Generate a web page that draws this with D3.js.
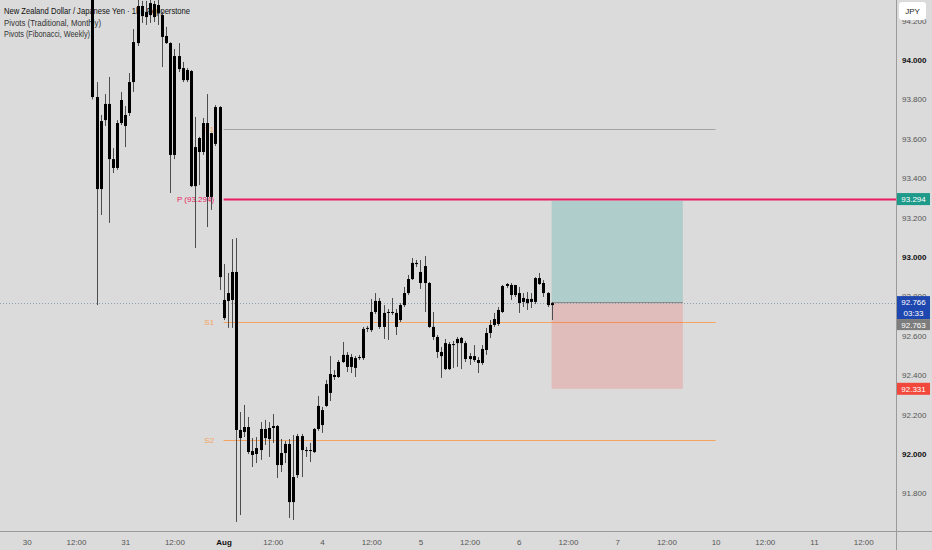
<!DOCTYPE html>
<html lang="en">
<head>
<meta charset="UTF-8" />
<title>NZDJPY 1h</title>
<script src="https://d3js.org/d3.v7.min.js"></script>
<style>
    body { margin: 0; background: #dbdbdb; }
    svg { display: block; font-family: "Liberation Sans", Arial, sans-serif; }
</style>
</head>
<body>
<script>
    var w = 932, h = 550;
    var plotW = 896, plotH = 531;

    // hour index of the first candle (0 = 30 Jul 00:00, trading hours only)
    var firstBar = 16;

    var opens = [
        94.345, 93.812, 93.345, 93.695, 93.777, 93.497, 93.452, 93.680, 93.721, 93.731,
        93.888, 94.086, 94.274, 94.218, 94.228, 94.284, 94.239, 94.228, 94.122, 94.086,
        93.518, 94.020, 93.959, 93.898, 93.944, 93.360, 93.533, 93.533, 93.680, 93.305,
        93.574, 93.761, 92.782, 92.777, 92.782, 92.924, 92.122, 92.112, 92.137, 92.015,
        92.000, 92.020, 92.127, 92.076, 92.132, 92.142, 91.944, 92.005, 92.051, 91.756,
        91.893, 92.091, 92.020, 92.015, 92.010, 92.127, 92.147, 92.244, 92.310, 92.401,
        92.391, 92.467, 92.503, 92.442, 92.487, 92.487, 92.487, 92.635, 92.629, 92.721,
        92.777, 92.645, 92.716, 92.721, 92.716, 92.680, 92.756, 92.817, 92.888, 92.970,
        92.924, 92.868, 92.868, 92.645, 92.594, 92.518, 92.431, 92.558, 92.553, 92.563,
        92.589, 92.563, 92.482, 92.497, 92.477, 92.462, 92.528, 92.614, 92.655, 92.660,
        92.721, 92.853, 92.858, 92.807, 92.817, 92.772, 92.787, 92.772, 92.772, 92.893,
        92.868, 92.817, 92.756
    ];
    var highs = [
        94.360, 93.888, 93.721, 93.827, 93.914, 93.553, 93.695, 93.838, 93.766, 93.934,
        94.157, 94.305, 94.300, 94.300, 94.305, 94.300, 94.305, 94.244, 94.168, 94.090,
        94.056, 94.086, 93.990, 93.959, 93.949, 93.711, 93.610, 93.706, 93.827, 93.630,
        93.771, 93.766, 92.964, 92.919, 93.091, 93.096, 92.213, 92.249, 92.188, 92.081,
        92.086, 92.162, 92.173, 92.162, 92.203, 92.147, 92.076, 92.066, 92.076, 92.096,
        92.102, 92.102, 92.036, 92.056, 92.132, 92.294, 92.239, 92.376, 92.497, 92.426,
        92.477, 92.569, 92.518, 92.508, 92.497, 92.503, 92.645, 92.650, 92.787, 92.817,
        92.792, 92.756, 92.736, 92.792, 92.736, 92.766, 92.848, 92.909, 92.995, 92.985,
        92.985, 93.005, 92.873, 92.721, 92.604, 92.543, 92.584, 92.569, 92.574, 92.594,
        92.594, 92.574, 92.513, 92.553, 92.492, 92.553, 92.640, 92.680, 92.716, 92.746,
        92.858, 92.868, 92.868, 92.858, 92.848, 92.817, 92.822, 92.817, 92.898, 92.919,
        92.883, 92.822, 92.772
    ];
    var lows = [
        93.800, 92.756, 93.213, 93.665, 93.173, 93.426, 93.442, 93.670, 93.558, 93.716,
        93.838, 94.071, 94.188, 94.178, 94.188, 94.193, 94.178, 93.964, 94.081, 93.325,
        93.497, 93.939, 93.888, 93.888, 93.355, 93.046, 93.365, 93.518, 93.152, 93.239,
        93.563, 92.832, 92.680, 92.640, 92.640, 91.655, 91.690, 92.086, 92.000, 91.934,
        91.954, 91.970, 92.046, 91.985, 92.056, 91.878, 91.909, 91.954, 91.675, 91.665,
        91.878, 91.883, 91.985, 91.959, 92.005, 92.117, 92.107, 92.239, 92.269, 92.376,
        92.386, 92.462, 92.416, 92.411, 92.391, 92.477, 92.477, 92.619, 92.619, 92.711,
        92.635, 92.584, 92.579, 92.706, 92.604, 92.670, 92.746, 92.807, 92.883, 92.949,
        92.838, 92.721, 92.640, 92.579, 92.487, 92.386, 92.426, 92.426, 92.437, 92.442,
        92.431, 92.467, 92.452, 92.467, 92.411, 92.452, 92.503, 92.589, 92.645, 92.650,
        92.716, 92.843, 92.782, 92.797, 92.716, 92.746, 92.731, 92.741, 92.761, 92.858,
        92.797, 92.746, 92.680
    ];
    var closes = [
        93.812, 93.345, 93.690, 93.777, 93.497, 93.452, 93.680, 93.797, 93.665, 93.888,
        94.091, 94.274, 94.223, 94.244, 94.289, 94.218, 94.279, 94.117, 94.086, 93.518,
        94.020, 93.954, 93.898, 93.949, 93.360, 93.558, 93.604, 93.680, 93.305, 93.629,
        93.761, 92.898, 92.690, 92.817, 92.924, 92.122, 92.081, 92.137, 92.010, 91.995,
        92.030, 92.127, 92.081, 92.132, 92.142, 91.944, 92.005, 92.051, 91.756, 91.883,
        92.091, 92.020, 92.015, 92.020, 92.127, 92.244, 92.223, 92.355, 92.406, 92.391,
        92.467, 92.503, 92.442, 92.492, 92.437, 92.492, 92.635, 92.640, 92.721, 92.777,
        92.645, 92.716, 92.721, 92.716, 92.645, 92.756, 92.817, 92.888, 92.970, 92.964,
        92.868, 92.954, 92.645, 92.594, 92.518, 92.497, 92.563, 92.431, 92.558, 92.584,
        92.563, 92.482, 92.497, 92.477, 92.462, 92.533, 92.614, 92.655, 92.685, 92.731,
        92.853, 92.863, 92.807, 92.858, 92.766, 92.792, 92.766, 92.787, 92.893, 92.863,
        92.817, 92.756, 92.766
    ];

    var timeTickBars = d3.range(0, 216, 12);
    var timeLabels = ["30", "12:00", "31", "12:00", "Aug", "12:00", "4", "12:00", "5", "12:00",
        "6", "12:00", "7", "12:00", "10", "12:00", "11", "12:00"];
    var priceTicks = [91.8, 92.0, 92.2, 92.4, 92.6, 92.8, 93.0, 93.2, 93.4, 93.6, 93.8, 94.0, 94.2];

    // pivot levels (monthly traditional / weekly fib)
    var pivotNames = ["R1", "P (93.294)", "S1", "S2"];
    var pivotValues = [93.650, 93.294, 92.670, 92.071];
    var pivotColors = ["#a3a3a3", "#e91e63", "#f5a35e", "#f5a35e"];
    var labelColors = ["#f5a35e", "#e91e63", "#f5a35e", "#f5a35e"];
    var pivotStart = 48, pivotEnd = 168;

    // long position tool
    var entryPrice = 92.766, targetPrice = 93.285, stopPrice = 92.331;
    var posStart = 128, posEnd = 160;
    var lastPrice = 92.766, bidPrice = 92.763;

    var svg = d3.select("body")
        .append("svg")
        .attr("width", w)
        .attr("height", h);

    var x = d3.scaleLinear().domain([0, 24]).range([26.8, 125.2]);
    var y = d3.scaleLinear().domain([92, 93]).range([454, 257]);

    svg.append("rect").attr("width", w).attr("height", h).attr("fill", "#dbdbdb");

    svg.append("defs").append("clipPath").attr("id", "plot")
        .append("rect").attr("width", plotW).attr("height", plotH);

    var plot = svg.append("g").attr("clip-path", "url(#plot)");

    // legend (candles are drawn over it)
    var legend = [
        ["New Zealand Dollar / Japanese Yen \u00b7 1h \u00b7 Pepperstone", 14, 186, "#111"],
        ["Pivots (Traditional, Monthly)", 25.5, 97, "#333"],
        ["Pivots (Fibonacci, Weekly)", 37, 86, "#333"]
    ];
    plot.selectAll("text.legend")
        .data(legend)
        .enter()
        .append("text")
        .attr("class", "legend")
        .attr("x", 4)
        .attr("y", function (d) { return d[1]; })
        .attr("textLength", function (d) { return d[2]; })
        .attr("lengthAdjust", "spacingAndGlyphs")
        .attr("font-size", 9.5)
        .attr("fill", function (d) { return d[3]; })
        .text(function (d) { return d[0]; });

    // pivot labels
    plot.selectAll("text.pivot")
        .data(pivotValues)
        .enter()
        .append("text")
        .attr("class", "pivot")
        .attr("x", x(pivotStart) - 9.5)
        .attr("y", function (d) { return y(d); })
        .attr("dy", "0.35em")
        .attr("text-anchor", "end")
        .attr("font-size", 8)
        .attr("fill", function (d, i) { return labelColors[i]; })
        .text(function (d, i) { return pivotNames[i]; });

    // pivot lines
    plot.selectAll("line.pivot")
        .data(pivotValues)
        .enter()
        .append("line")
        .attr("class", "pivot")
        .attr("x1", x(pivotStart))
        .attr("x2", function (d, i) { return i == 1 ? plotW : x(pivotEnd); })
        .attr("y1", function (d) { return Math.round(y(d)) + 0.5; })
        .attr("y2", function (d) { return Math.round(y(d)) + 0.5; })
        .attr("stroke", function (d, i) { return pivotColors[i]; })
        .attr("stroke-width", function (d, i) { return i == 1 ? 2 : 1; });

    // position tool
    plot.append("rect")
        .attr("x", x(posStart))
        .attr("y", y(targetPrice))
        .attr("width", x(posEnd) - x(posStart))
        .attr("height", y(entryPrice) - y(targetPrice))
        .attr("fill", "rgba(0,150,136,0.2)");
    plot.append("rect")
        .attr("x", x(posStart))
        .attr("y", y(entryPrice))
        .attr("width", x(posEnd) - x(posStart))
        .attr("height", y(stopPrice) - y(entryPrice))
        .attr("fill", "rgba(244,67,54,0.2)");
    plot.append("line")
        .attr("x1", x(posStart)).attr("x2", x(posEnd))
        .attr("y1", Math.round(y(entryPrice)) - 0.5).attr("y2", Math.round(y(entryPrice)) - 0.5)
        .attr("stroke", "#8a8a8a");

    // last price dotted line
    plot.append("line")
        .attr("x1", 0).attr("x2", plotW)
        .attr("y1", Math.round(y(lastPrice)) + 0.5).attr("y2", Math.round(y(lastPrice)) + 0.5)
        .attr("stroke", "#8ea1b3")
        .attr("stroke-dasharray", "1,2");

    // candles
    var candles = opens.map(function (o, i) {
        return { bar: firstBar + i, o: o, h: highs[i], l: lows[i], c: closes[i] };
    });

    plot.selectAll("line.wick")
        .data(candles)
        .enter()
        .append("line")
        .attr("class", "wick")
        .attr("x1", function (d) { return Math.round(x(d.bar)) + 0.5; })
        .attr("x2", function (d) { return Math.round(x(d.bar)) + 0.5; })
        .attr("y1", function (d) { return y(d.h); })
        .attr("y2", function (d) { return y(d.l); })
        .attr("stroke", "#4d4d4d");

    plot.selectAll("rect.body")
        .data(candles)
        .enter()
        .append("rect")
        .attr("class", "body")
        .attr("x", function (d) { return Math.round(x(d.bar)) - 1; })
        .attr("width", 3)
        .attr("y", function (d) { return y(Math.max(d.o, d.c)); })
        .attr("height", function (d) { return Math.max(1, Math.abs(y(d.o) - y(d.c))); })
        .attr("fill", "#000");

    // axes
    var yAxis = d3.axisRight(y)
        .tickValues(priceTicks)
        .tickSize(0)
        .tickPadding(6)
        .tickFormat(d3.format(".3f"));
    var gy = svg.append("g")
        .attr("transform", "translate(" + plotW + ",0)")
        .call(yAxis);
    gy.select(".domain").remove();
    gy.selectAll("text")
        .attr("font-size", 8)
        .attr("font-family", "Liberation Sans, Arial, sans-serif")
        .attr("font-weight", function (d) { return Math.abs(d - Math.round(d)) < 1e-6 ? "bold" : "normal"; })
        .attr("fill", function (d) { return Math.abs(d - Math.round(d)) < 1e-6 ? "#111" : "#555"; });

    var xAxis = d3.axisBottom(x)
        .tickValues(timeTickBars)
        .tickSize(0)
        .tickPadding(8)
        .tickFormat(function (d, i) { return timeLabels[i]; });
    var gx = svg.append("g")
        .attr("transform", "translate(0," + plotH + ")")
        .call(xAxis);
    gx.select(".domain").remove();
    gx.selectAll("text")
        .attr("font-size", 8)
        .attr("font-family", "Liberation Sans, Arial, sans-serif")
        .attr("font-weight", function (d, i) { return timeLabels[i] == "Aug" ? "bold" : "normal"; })
        .attr("fill", function (d, i) { return timeLabels[i] == "Aug" ? "#111" : "#555"; });

    svg.append("line")
        .attr("x1", plotW + 0.5).attr("x2", plotW + 0.5)
        .attr("y1", 0).attr("y2", h)
        .attr("stroke", "#9a9a9a");
    svg.append("line")
        .attr("x1", 0).attr("x2", w)
        .attr("y1", plotH + 0.5).attr("y2", plotH + 0.5)
        .attr("stroke", "#9a9a9a");

    // price labels on the scale
    var tags = [
        { v: 93.294, top: y(93.294) - 6, hgt: 12, fill: "#1e9a8b", lines: ["93.294"] },
        { v: lastPrice, top: y(lastPrice) - 7, hgt: 23, fill: "#1f47b0", lines: ["92.766", "03:33"] },
        { v: bidPrice, top: y(lastPrice) + 16, hgt: 11, fill: "#7d7d7d", lines: ["92.763"] },
        { v: stopPrice, top: y(stopPrice) - 6, hgt: 12, fill: "#f2483b", lines: ["92.331"] }
    ];
    var tg = svg.selectAll("g.tag")
        .data(tags)
        .enter()
        .append("g")
        .attr("class", "tag");
    tg.append("rect")
        .attr("x", plotW + 1)
        .attr("y", function (d) { return d.top; })
        .attr("width", 33)
        .attr("height", function (d) { return d.hgt; })
        .attr("fill", function (d) { return d.fill; });
    tg.each(function (d) {
        d3.select(this).selectAll("text")
            .data(d.lines)
            .enter()
            .append("text")
            .attr("x", plotW + 17.5)
            .attr("y", function (t, i) { return d.top + 9 + i * 11; })
            .attr("text-anchor", "middle")
            .attr("font-size", 8)
            .attr("fill", "#fff")
            .text(function (t) { return t; });
    });

    // currency button
    svg.append("rect")
        .attr("x", 899).attr("y", 2)
        .attr("width", 27).attr("height", 18)
        .attr("rx", 3)
        .attr("fill", "#fff");
    svg.append("text")
        .attr("x", 912.5).attr("y", 14)
        .attr("text-anchor", "middle")
        .attr("font-size", 8)
        .attr("fill", "#222")
        .text("JPY");
</script>
</body>
</html>
